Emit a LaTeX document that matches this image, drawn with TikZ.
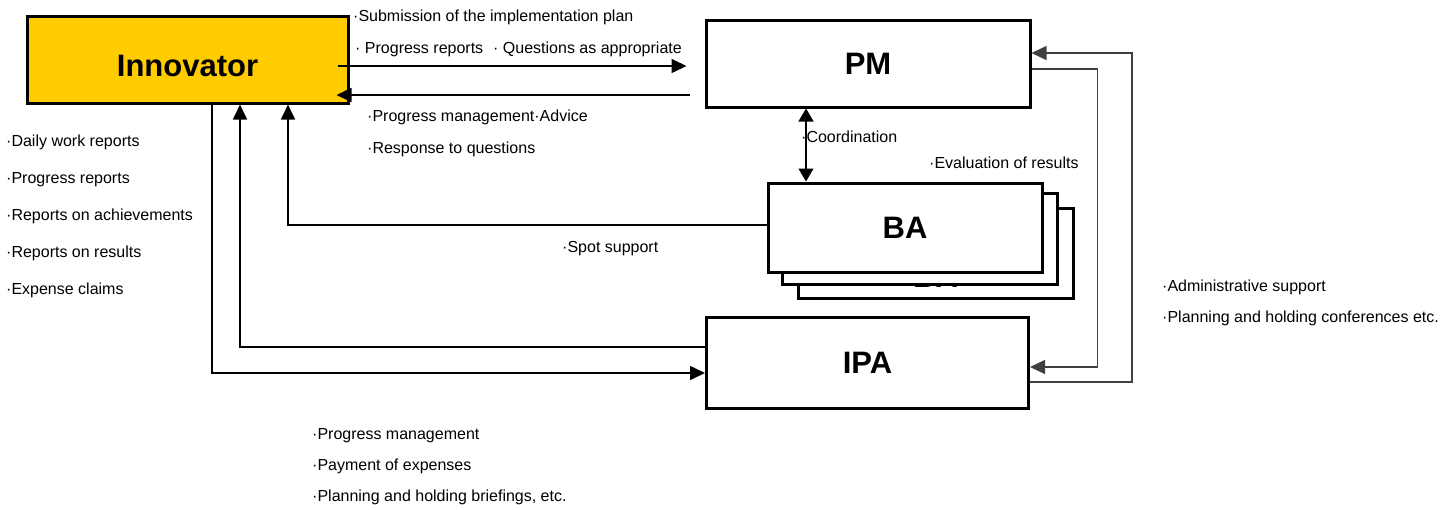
\documentclass[tikz,border=0pt]{standalone}
\usepackage{fontspec}
\setmainfont{Liberation Sans}
\usetikzlibrary{arrows.meta,positioning}
\definecolor{innoyellow}{HTML}{FFCC00}
\definecolor{loopgrey}{HTML}{404040}

\begin{document}
\begin{tikzpicture}[x=1pt,y=-1pt,>={Triangle[length=15pt,width=14pt]},
    entity/.style={draw,line width=3pt,fill=white,inner sep=0pt,
      font=\fontsize{31}{31}\selectfont\bfseries},
    note/.style={anchor=west,inner sep=0pt,text height=11pt,text depth=3pt,
      font=\fontsize{16}{18}\selectfont},
    flow/.style={->,line width=1.6pt},
    greyline/.style={->,line width=1.3pt,draw=loopgrey}]
\useasboundingbox (0,0) rectangle (1453,509);

% the parties
\node[entity,fill=innoyellow,minimum width=321pt,minimum height=87pt,
  text height=34pt,text depth=0pt] (inno) at (187.5,59.5) {Innovator};
\node[entity,minimum width=324pt,minimum height=87pt] (pm) at (868,63.5) {PM};
\node[entity,minimum width=275pt,minimum height=90pt,
  label={[font=\fontsize{31}{31}\selectfont\bfseries,anchor=south,yshift=12pt,inner sep=0pt]south:BA}] (ba3) at (935.5,253) {};
\node[entity,minimum width=275pt,minimum height=91pt] (ba2) at (919.5,238.5) {};
\node[entity,minimum width=274pt,minimum height=89pt] (ba) at (905,227.5) {BA};
\node[entity,minimum width=322pt,minimum height=91pt] (ipa) at (867.5,362.5) {IPA};

% innovator <-> PM
\coordinate (s1) at ([yshift=-6.5pt]inno.east);
\coordinate (s2) at ([yshift=-35.5pt]inno.east);
\draw[flow,shorten <=-12pt,shorten >=18pt] (s1) -- (s1 -| pm.west);
\draw[flow,shorten <=15pt,shorten >=-13pt] (s2 -| pm.west) -- (s2);

% reports and support
\draw[flow] ([xshift=24.5pt]inno.south) |- ([yshift=-10.5pt]ipa.west);
\draw[flow] ([yshift=15.5pt]ipa.west) -| ([xshift=52.5pt]inno.south);
\draw[flow] ([yshift=2.5pt]ba.west) -| ([xshift=100.5pt]inno.south);

% coordination
\coordinate (cd) at ([xshift=-62pt]pm.south);
\draw[<->,line width=1.2pt,>={Triangle[length=13pt,width=15pt]}] (cd) -- (cd |- ba.north);

% PM <-> IPA
\draw[greyline] ([yshift=-5.5pt]pm.east) -- ++(66,0) |- ([yshift=-4.5pt]ipa.east);
\draw[greyline] ([yshift=-19.5pt]ipa.east) -- ++(102,0) |- ([yshift=10.5pt]pm.east);

% texts
\node[note] (sub) at (353,17) {·Submission of the implementation plan};
\node[note] (rep) at (355,49) {·\ Progress reports\hspace{10pt}·\ Questions as appropriate};
\node[note] (adv) at (367,117) {·Progress management·Advice};
\node[note] (ans) at (367,149) {·Response to questions};
\node[note] (crd) at (801,138) {·Coordination};
\node[note] (evl) at (929,164) {·Evaluation of results};
\node[note] (spt) at (562,248) {·Spot support};

\node[note] (dwr) at (6,142) {·Daily work reports};
\node[note] (prr) at (6,179) {·Progress reports};
\node[note] (roa) at (6,216) {·Reports on achievements};
\node[note] (ror) at (6,253) {·Reports on results};
\node[note] (exc) at (6,290) {·Expense claims};

\node[note] (ads) at (1162,287) {·Administrative support};
\node[note] (pcf) at (1162,318) {·Planning and holding conferences etc.};

\node[note] (prm) at (312,435) {·Progress management};
\node[note] (pay) at (312,466) {·Payment of expenses};
\node[note] (pbr) at (312,497) {·Planning and holding briefings, etc.};
\end{tikzpicture}
\end{document}
